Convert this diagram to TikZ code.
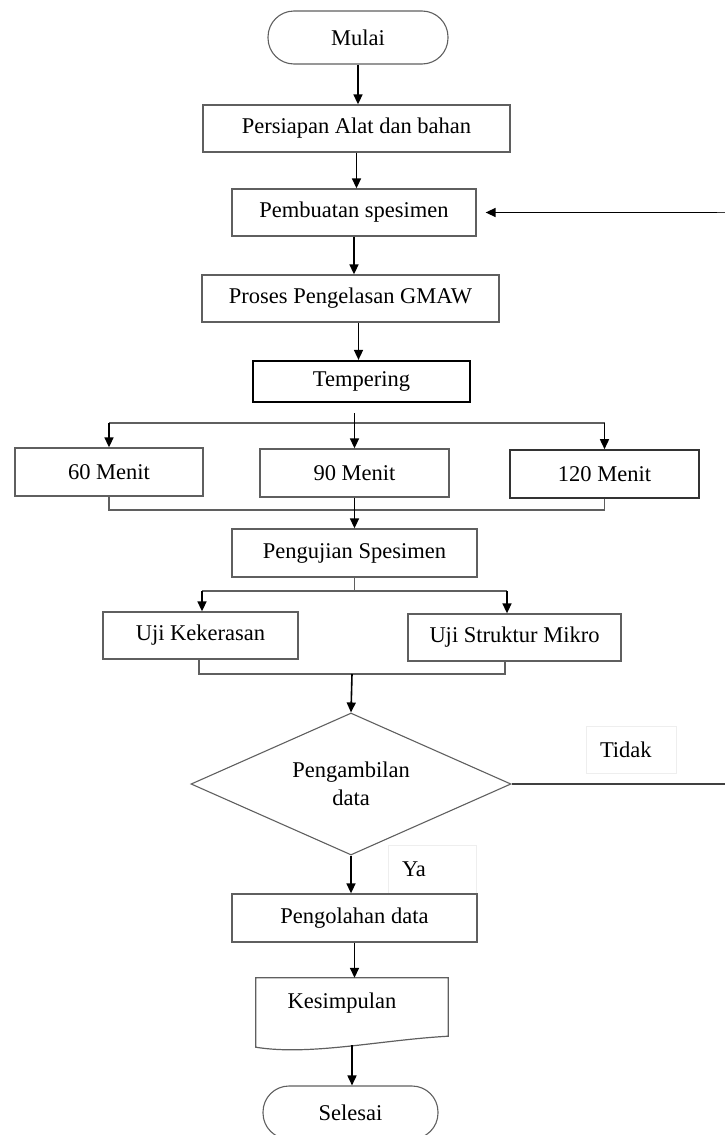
\documentclass[tikz,border=0pt]{standalone}
\usepackage{fontspec}
\setmainfont{Liberation Serif}
\usetikzlibrary{arrows.meta,shapes.geometric}
\definecolor{fcline}{RGB}{95,95,95}
\definecolor{fcfaint}{RGB}{238,238,238}
\tikzset{
  base/.style={font=\fontsize{22.5}{28}\selectfont, align=center, inner sep=0pt},
  term/.style={base, draw=fcline, line width=1.1pt, rounded corners=26pt, minimum height=53pt},
  proc/.style={base, draw=fcline, line width=1.3pt, minimum height=47pt},
  dec/.style={base, draw=fcline, line width=1.1pt, diamond, aspect=2.25,
              minimum width=320pt, minimum height=142pt},
  docshape/.style={base, minimum width=192pt, minimum height=68pt},
  lblbox/.style={base, draw=fcfaint, line width=0.6pt, minimum height=47pt,
                 inner xsep=14pt, align=left},
  arr/.style={-{Triangle[length=10pt, width=9pt]}, line width=1.6pt, draw=black},
  link/.style={line width=1.2pt, draw=fcline}
}
\begin{document}
\begin{tikzpicture}[x=1pt, y=-1pt]
  \useasboundingbox (0,0) rectangle (724,1135);
  % main column
  \node[term, minimum width=180pt] (mulai) at (358,37.5)   {Mulai};
  \node[proc, minimum width=307pt] (alat)  at (356.5,128.5) {Persiapan Alat dan bahan};
  \node[proc, minimum width=244pt] (pem)   at (354,212.5)  {Pembuatan spesimen};
  \node[proc, minimum width=297pt] (gmaw)  at (350.5,298.5) {Proses Pengelasan GMAW};
  \node[proc, minimum width=217pt, minimum height=41pt, draw=black, line width=2.2pt]
        (temp) at (361.5,381.5) {Tempering};
  % row: tempering time
  \node[proc, minimum width=188pt, minimum height=48pt] (m60)  at (109,472)   {60 Menit};
  \node[proc, minimum width=189pt, minimum height=48pt] (m90)  at (354.5,473) {90 Menit};
  \node[proc, minimum width=189pt, minimum height=48pt, draw=black!80, line width=1.6pt]
        (m120) at (604.5,474) {120 Menit};
  \node[proc, minimum width=245pt, minimum height=48pt] (uji)  at (354.5,553) {Pengujian Spesimen};
  % row: tests
  \node[proc, minimum width=195pt] (keras)  at (200.5,635.5) {Uji Kekerasan};
  \node[proc, minimum width=213pt] (mikro)  at (514.5,637.5) {Uji Struktur Mikro};
  % decision and end
  \node[dec] (ambil) at (351,784) {Pengambilan\\data};
  \node[lblbox, text width=62pt] (tidak) at (631,749.5) {Tidak};
  \node[lblbox, text width=60pt, minimum height=48pt] (ya) at (432,869) {Ya};
  \node[proc, minimum width=245pt, minimum height=48pt] (olah) at (354.5,918) {Pengolahan data};
  \node[docshape] (kes) at (352,1012) {};
  \node[base] (kestxt) at ([xshift=-10pt, yshift=9pt]kes.center) {Kesimpulan};
  \node[term, minimum width=175pt] (selesai) at (350.5,1112.5) {Selesai};

  \draw[link] (kes.north west) -- (kes.north east) -- ([yshift=10pt]kes.south east)
    .. controls (380,1040) and (310,1056) .. ([yshift=-1pt]kes.south west) -- cycle;

  \coordinate (split1) at (355,423);
  \coordinate (join1)  at (355,510);
  \coordinate (split2) at (356,591);
  \coordinate (join2)  at (352,674);

  \draw[arr] (mulai.south) -- (mulai.south |- alat.north);
  \draw[arr] (alat.south) -- (alat.south |- pem.north);
  \draw[arr] (pem.south) -- (pem.south |- gmaw.north);
  \draw[arr] ([xshift=8pt]gmaw.south) -- ([xshift=8pt]gmaw.south |- temp.north);
  % branch to the three times
  \draw[link] (m60.north |- split1) -- (m120.north |- split1);
  \draw[arr] ([yshift=-10pt]temp.south -| m90.north) -- (m90.north);
  \draw[arr] (m60.north |- split1) -- (m60.north);
  \draw[arr] (m120.north |- split1) -- (m120.north);
  \draw[link] (m60.south) -- (m60.south |- join1) -- (m120.south |- join1) -- (m120.south);
  \draw[arr] (m90.south) -- (uji.north);
  % branch to the tests
  \draw[link] (uji.south) -- (uji.south |- split2);
  \draw[link] ([xshift=1.5pt]keras.north |- split2) -- ([xshift=-7.5pt]mikro.north |- split2);
  \draw[arr] ([xshift=1.5pt]keras.north |- split2) -- ([xshift=1.5pt]keras.north);
  \draw[arr] ([xshift=-7.5pt]mikro.north |- split2) -- ([xshift=-7.5pt]mikro.north);
  \draw[link] ([xshift=-1.5pt]keras.south) -- ([xshift=-1.5pt]keras.south |- join2)
    -- ([xshift=-9.5pt]mikro.south |- join2) -- ([xshift=-9.5pt]mikro.south);
  \draw[arr] (join2) -- (ambil.north);
  % decision
  \draw[link, draw=black!75] (ambil.east) -- ++(219,0) |- ([xshift=9pt]pem.east);
  \draw[arr] ([xshift=240pt]pem.east) -- ([xshift=9pt]pem.east);
  \draw[arr] (ambil.south) -- (ambil.south |- olah.north);
  \draw[arr] (olah.south) -- (olah.south |- kes.north);
  \draw[arr] ([yshift=1pt]kes.south) -- (kes.south |- selesai.north);
\end{tikzpicture}
\end{document}
